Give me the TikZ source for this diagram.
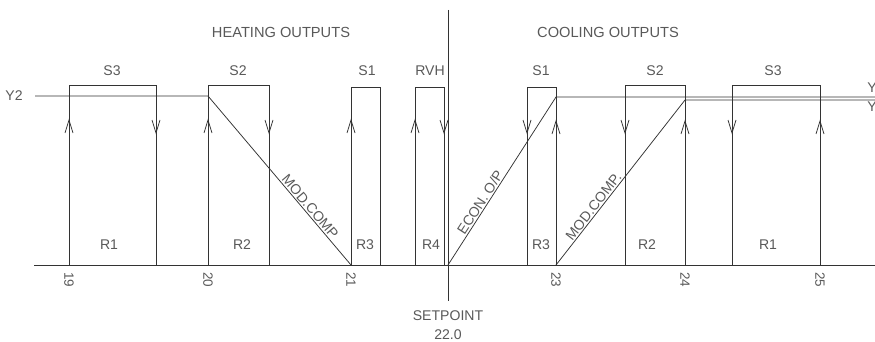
\documentclass[tikz,border=0pt]{standalone}
\usepackage{fontspec}
\setmainfont{Liberation Sans}
\tikzset{
  ln/.style={draw=black!80, line width=0.65pt},
  lbl/.style={text=black!65, inner sep=1pt, font=\fontsize{12}{14}\selectfont},
  ttl/.style={lbl, font=\fontsize{12.5}{14}\selectfont},
  ticklbl/.style={lbl, rotate=-90, anchor=west, font=\fontsize{11.5}{13}\selectfont},
  uparr/.pic={\draw[ln] (-4,13) -- (0,0) -- (4,13);},
  dnarr/.pic={\draw[ln] (-4,-13) -- (0,0) -- (4,-13);}
}
\begin{document}
\begin{tikzpicture}[x=0.03cm, y=-0.03cm]
\useasboundingbox (0,0) rectangle (875,342);
% titles
\node[ttl] (heat) at (281,32) {HEATING OUTPUTS};
\node[ttl] (cool) at (608,32) {COOLING OUTPUTS};
% axis and setpoint
\draw[ln] (34,265) -- (875,265);
\draw[ln] (448,10) -- (448,301);
\node[lbl] (sp) at (448,316) {SETPOINT};
\node[lbl] (spval) at (448,335) {22.0};
% heating stages
\draw[ln] (69,265) |- (156,85) -- (156,265);
\draw[ln] (208,265) |- (269,85) -- (269,265);
\draw[ln] (351,265) |- (380,87) -- (380,265);
\draw[ln] (415,265) |- (444,87) -- (444,265);
\draw[ln] (35,96) -- (208,96) -- node[lbl, sloped, above, pos=0.68] (hmod) {MOD.COMP} (351,265);
\node[lbl] (y2) at (14,96) {Y2};
% cooling stages
\draw[ln] (527,265) |- (556,87) -- (556,265);
\draw[ln] (625,265) |- (685,85) -- (685,265);
\draw[ln] (732,265) |- (820,85) -- (820,265);
\draw[ln] (448,265) -- node[lbl, sloped, above, pos=0.35] (econ) {ECON. O/P} (556,97) -- (875,97);
\draw[ln] (556,265) -- node[lbl, sloped, above, pos=0.33] (cmod) {MOD.COMP.} (685,100) -- (875,100);
\node[lbl, anchor=west] (ya) at (866,88) {Y};
\node[lbl, anchor=west] (yb) at (866,107) {Y};
% stage labels
\node[lbl] (hs3) at (112,71) {S3};
\node[lbl] (hs2) at (238,71) {S2};
\node[lbl] (hs1) at (367,71) {S1};
\node[lbl] (rvh) at (430,71) {RVH};
\node[lbl] (cs1) at (541,71) {S1};
\node[lbl] (cs2) at (655,71) {S2};
\node[lbl] (cs3) at (773,71) {S3};
% relay labels
\node[lbl] (hr1) at (109,245) {R1};
\node[lbl] (hr2) at (242,245) {R2};
\node[lbl] (hr3) at (365,245) {R3};
\node[lbl] (hr4) at (431,245) {R4};
\node[lbl] (cr3) at (541,245) {R3};
\node[lbl] (cr2) at (647,245) {R2};
\node[lbl] (cr1) at (768,245) {R1};
% temperatures
\node[ticklbl] (t19) at (69,271) {19};
\node[ticklbl] (t20) at (208,271) {20};
\node[ticklbl] (t21) at (351,271) {21};
\node[ticklbl] (t23) at (556,271) {23};
\node[ticklbl] (t24) at (685,271) {24};
\node[ticklbl] (t25) at (820,271) {25};
% direction marks
\foreach \x in {69,208,351,415} \pic at (\x,120) {uparr};
\foreach \x in {556,685,820} \pic at (\x,121) {uparr};
\foreach \x in {156,269,444,527,625,732} \pic at (\x,133) {dnarr};
\end{tikzpicture}
\end{document}
